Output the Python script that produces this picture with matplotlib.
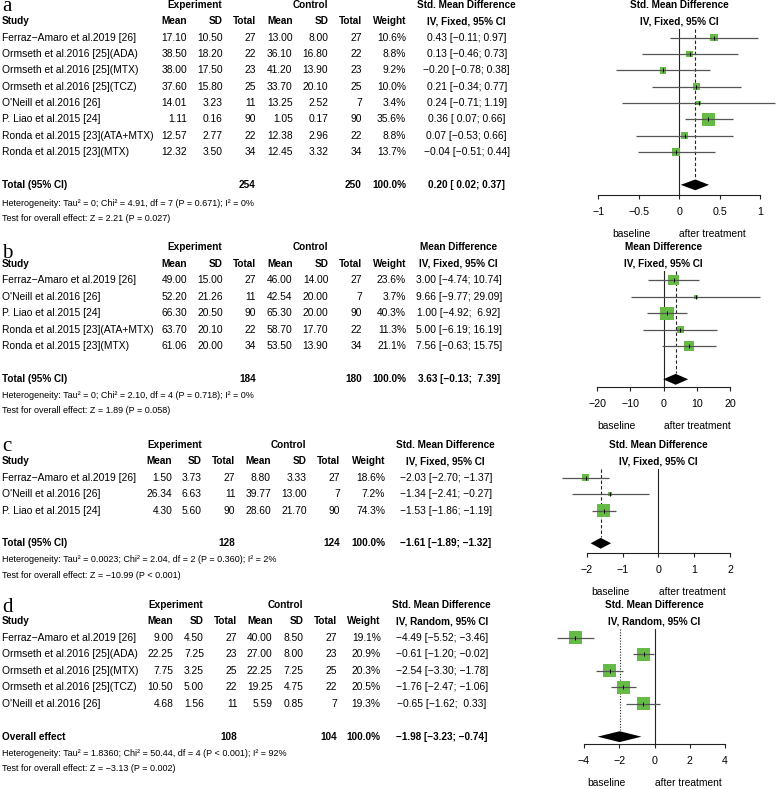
import numpy as np
import matplotlib.pyplot as plt

W, H = 778, 789
plt.rcParams['font.family'] = ['Liberation Sans', 'DejaVu Sans']

# ---- panel a: SMD, fixed ----
studies_a = ["Ferraz\u2212Amaro et al.2019 [26]", "Ormseth et al.2016 [25](ADA)",
             "Ormseth et al.2016 [25](MTX)", "Ormseth et al.2016 [25](TCZ)",
             "O'Neill et al.2016 [26]", "P. Liao et al.2015 [24]",
             "Ronda et al.2015 [23](ATA+MTX)", "Ronda et al.2015 [23](MTX)"]
mean_e_a = [17.10, 38.50, 38.00, 37.60, 14.01, 1.11, 12.57, 12.32]
sd_e_a = [10.50, 18.20, 17.50, 15.80, 3.23, 0.16, 2.77, 3.50]
n_e_a = [27, 22, 23, 25, 11, 90, 22, 34]
mean_c_a = [13.00, 36.10, 41.20, 33.70, 13.25, 1.05, 12.38, 12.45]
sd_c_a = [8.00, 16.80, 13.90, 20.10, 2.52, 0.17, 2.96, 3.32]
n_c_a = [27, 22, 23, 25, 7, 90, 22, 34]
weight_a = [10.6, 8.8, 9.2, 10.0, 3.4, 35.6, 8.8, 13.7]
est_a = [0.43, 0.13, -0.20, 0.21, 0.24, 0.36, 0.07, -0.04]
lo_a = [-0.11, -0.46, -0.78, -0.34, -0.71, 0.07, -0.53, -0.51]
hi_a = [0.97, 0.73, 0.38, 0.77, 1.19, 0.66, 0.66, 0.44]
pooled_a = [0.20, 0.02, 0.37]
totals_a = [254, 250]
ticks_a = [-1, -0.5, 0, 0.5, 1]
ticklabels_a = ["\u22121", "\u22120.5", "0", "0.5", "1"]
het_a = "Heterogeneity: Tau\u00b2 = 0; Chi\u00b2 = 4.91, df = 7 (P = 0.671); I\u00b2 = 0%"
test_a = "Test for overall effect: Z = 2.21 (P = 0.027)"

# ---- panel b: MD, fixed ----
studies_b = ["Ferraz\u2212Amaro et al.2019 [26]", "O'Neill et al.2016 [26]",
             "P. Liao et al.2015 [24]", "Ronda et al.2015 [23](ATA+MTX)",
             "Ronda et al.2015 [23](MTX)"]
mean_e_b = [49.00, 52.20, 66.30, 63.70, 61.06]
sd_e_b = [15.00, 21.26, 20.50, 20.10, 20.00]
n_e_b = [27, 11, 90, 22, 34]
mean_c_b = [46.00, 42.54, 65.30, 58.70, 53.50]
sd_c_b = [14.00, 20.00, 20.00, 17.70, 13.90]
n_c_b = [27, 7, 90, 22, 34]
weight_b = [23.6, 3.7, 40.3, 11.3, 21.1]
est_b = [3.00, 9.66, 1.00, 5.00, 7.56]
lo_b = [-4.74, -9.77, -4.92, -6.19, -0.63]
hi_b = [10.74, 29.09, 6.92, 16.19, 15.75]
pooled_b = [3.63, -0.13, 7.39]
totals_b = [184, 180]
ticks_b = [-20, -10, 0, 10, 20]
ticklabels_b = ["\u221220", "\u221210", "0", "10", "20"]
het_b = "Heterogeneity: Tau\u00b2 = 0; Chi\u00b2 = 2.10, df = 4 (P = 0.718); I\u00b2 = 0%"
test_b = "Test for overall effect: Z = 1.89 (P = 0.058)"

# ---- panel c: SMD, fixed ----
studies_c = ["Ferraz\u2212Amaro et al.2019 [26]", "O'Neill et al.2016 [26]",
             "P. Liao et al.2015 [24]"]
mean_e_c = [1.50, 26.34, 4.30]
sd_e_c = [3.73, 6.63, 5.60]
n_e_c = [27, 11, 90]
mean_c_c = [8.80, 39.77, 28.60]
sd_c_c = [3.33, 13.00, 21.70]
n_c_c = [27, 7, 90]
weight_c = [18.6, 7.2, 74.3]
est_c = [-2.03, -1.34, -1.53]
lo_c = [-2.70, -2.41, -1.86]
hi_c = [-1.37, -0.27, -1.19]
pooled_c = [-1.61, -1.89, -1.32]
totals_c = [128, 124]
ticks_c = [-2, -1, 0, 1, 2]
ticklabels_c = ["\u22122", "\u22121", "0", "1", "2"]
het_c = "Heterogeneity: Tau\u00b2 = 0.0023; Chi\u00b2 = 2.04, df = 2 (P = 0.360); I\u00b2 = 2%"
test_c = "Test for overall effect: Z = \u221210.99 (P < 0.001)"

# ---- panel d: SMD, random ----
studies_d = ["Ferraz\u2212Amaro et al.2019 [26]", "Ormseth et al.2016 [25](ADA)",
             "Ormseth et al.2016 [25](MTX)", "Ormseth et al.2016 [25](TCZ)",
             "O'Neill et al.2016 [26]"]
mean_e_d = [9.00, 22.25, 7.75, 10.50, 4.68]
sd_e_d = [4.50, 7.25, 3.25, 5.00, 1.56]
n_e_d = [27, 23, 25, 22, 11]
mean_c_d = [40.00, 27.00, 22.25, 19.25, 5.59]
sd_c_d = [8.50, 8.00, 7.25, 4.75, 0.85]
n_c_d = [27, 23, 25, 22, 7]
weight_d = [19.1, 20.9, 20.3, 20.5, 19.3]
est_d = [-4.49, -0.61, -2.54, -1.76, -0.65]
lo_d = [-5.52, -1.20, -3.30, -2.47, -1.62]
hi_d = [-3.46, -0.02, -1.78, -1.06, 0.33]
pooled_d = [-1.98, -3.23, -0.74]
totals_d = [108, 104]
ticks_d = [-4, -2, 0, 2, 4]
ticklabels_d = ["\u22124", "\u22122", "0", "2", "4"]
het_d = "Heterogeneity: Tau\u00b2 = 1.8360; Chi\u00b2 = 50.44, df = 4 (P < 0.001); I\u00b2 = 92%"
test_d = "Test for overall effect: Z = \u22123.13 (P = 0.002)"

GREEN = '#66bb47'
FS = 7.4      # body text
FSB = 7.2     # bold headers
FSS = 6.5     # heterogeneity lines

fig = plt.figure(figsize=(W / 100, H / 100), dpi=100)
bg = fig.add_axes([0, 0, 1, 1])
bg.set_xlim(0, W)
bg.set_ylim(H, 0)
bg.axis('off')


def fmt(v):
    return f"{v:.2f}".replace('-', '\u2212')


def padded(vals):
    s = [fmt(v) for v in vals]
    w = max(len(x) for x in s)
    return [' ' * (w - len(x)) + x for x in s]


def draw_panel(p):
    top, step = p['top'], p['step']
    n = len(p['studies'])
    c = p['cols']
    row_px = lambda r: top + (2 + r) * step

    bg.text(2, p['label_y'], p['label'], family='Liberation Serif', fontsize=15,
            va='baseline', ha='left')
    bg.text(c['exp'], top, "Experiment", fontsize=FSB, weight='bold', ha='center', va='center')
    bg.text(c['ctl'], top, "Control", fontsize=FSB, weight='bold', ha='center', va='center')
    bg.text(c['ci'], top, p['head1'], fontsize=FSB, weight='bold', ha='center', va='center')

    y2 = top + step
    bg.text(2, y2, "Study", fontsize=FSB, weight='bold', ha='left', va='center')
    for key, name in [('me', 'Mean'), ('se', 'SD'), ('ne', 'Total'),
                      ('mc', 'Mean'), ('sc', 'SD'), ('nc', 'Total'), ('w', 'Weight')]:
        bg.text(c[key], y2, name, fontsize=FSB, weight='bold', ha='right', va='center')
    bg.text(c['ci'], y2, p['head2'], fontsize=FSB, weight='bold', ha='center', va='center')

    lo_s = padded(list(p['lo']) + [p['pooled'][1]])
    hi_s = padded(list(p['hi']) + [p['pooled'][2]])
    for i in range(n):
        y = row_px(i)
        bg.text(2, y, p['studies'][i], fontsize=FS, ha='left', va='center')
        bg.text(c['me'], y, fmt(p['me'][i]), fontsize=FS, ha='right', va='center')
        bg.text(c['se'], y, fmt(p['se'][i]), fontsize=FS, ha='right', va='center')
        bg.text(c['ne'], y, str(p['ne'][i]), fontsize=FS, ha='right', va='center')
        bg.text(c['mc'], y, fmt(p['mc'][i]), fontsize=FS, ha='right', va='center')
        bg.text(c['sc'], y, fmt(p['sc'][i]), fontsize=FS, ha='right', va='center')
        bg.text(c['nc'], y, str(p['nc'][i]), fontsize=FS, ha='right', va='center')
        bg.text(c['w'], y, f"{p['w'][i]:.1f}%", fontsize=FS, ha='right', va='center')
        bg.text(c['ci'], y, f"{fmt(p['est'][i])} [{lo_s[i]}; {hi_s[i]}]",
                fontsize=FS, ha='center', va='center')

    yt = row_px(n + 1)
    bg.text(2, yt, p['total_label'], fontsize=FSB, weight='bold', ha='left', va='center')
    bg.text(c['ne'], yt, str(p['totals'][0]), fontsize=FSB, weight='bold', ha='right', va='center')
    bg.text(c['nc'], yt, str(p['totals'][1]), fontsize=FSB, weight='bold', ha='right', va='center')
    bg.text(c['w'], yt, "100.0%", fontsize=FSB, weight='bold', ha='right', va='center')
    bg.text(c['ci'], yt, f"{fmt(p['pooled'][0])} [{lo_s[-1]}; {hi_s[-1]}]",
            fontsize=FSB, weight='bold', ha='center', va='center')
    bg.text(2, yt + p['het_gap'], p['het'], fontsize=FSS, ha='left', va='center')
    bg.text(2, yt + p['het_gap'] + 15.5, p['test'], fontsize=FSS, ha='left', va='center')

    # forest plot
    ticks = p['ticks']
    x0, x1 = p['tick_px']
    gap = p['gap']
    ytop_px = row_px(-1)
    ybot_px = row_px(n + gap)
    ax = fig.add_axes([x0 / W, 1 - ybot_px / H, (x1 - x0) / W, (ybot_px - ytop_px) / H])
    ax.set_xlim(ticks[0], ticks[-1])
    ax.set_ylim(n + gap, -1)
    ax.patch.set_alpha(0)
    for s in ['top', 'right', 'left']:
        ax.spines[s].set_visible(False)
    ax.spines['bottom'].set_linewidth(0.8)
    ax.spines['bottom'].set_color('#222222')
    ax.set_yticks([])
    ax.set_xticks(ticks)
    ax.set_xticklabels(p['ticklabels'])
    ax.tick_params(axis='x', length=3.2, width=0.8, pad=5.5, labelsize=7.7, color='#222222')

    rows = np.arange(n)
    ax.plot([0, 0], [-0.55, n + gap], color='#222222', lw=0.8, clip_on=False, zorder=1)
    ax.plot([p['pooled'][0]] * 2, [-0.55, n + 0.6], color='#222222', lw=0.8,
            ls=p['pooled_ls'], clip_on=False, zorder=1)
    w = np.array(p['w'])
    side = 9.7 * np.sqrt(w / w.max())
    ax.scatter(p['est'], rows, s=side ** 2, marker='s', color=GREEN, linewidths=0,
               zorder=2, clip_on=False)
    ax.hlines(rows, p['lo'], p['hi'], color='#555555', lw=0.9, zorder=3, clip_on=False)
    ax.scatter(p['est'], rows, s=3.5 ** 2, marker='|', color='black', linewidths=0.7,
               zorder=4, clip_on=False)
    pe, pl, ph = p['pooled']
    ax.fill([pl, pe, ph, pe], [n + 1, n + 1 - 0.33, n + 1, n + 1 + 0.33],
            color='black', lw=0, zorder=3, clip_on=False)

    zero_px = x0 + (0 - ticks[0]) / (ticks[-1] - ticks[0]) * (x1 - x0)
    bg.text(zero_px - 47.7, ybot_px + 39, "baseline", fontsize=FS, ha='center', va='center')
    bg.text(zero_px + 33.7, ybot_px + 39, "after treatment", fontsize=FS, ha='center', va='center')
    bg.text(zero_px, top, p['head1'], fontsize=FSB, weight='bold', ha='center', va='center')
    bg.text(zero_px, y2, p['head2'], fontsize=FSB, weight='bold', ha='center', va='center')


cols_ab = dict(exp=195, ctl=310, me=187, se=223, ne=256, mc=292.7, sc=328.3, nc=361.7, w=406)

panels = [
    dict(label='a', label_y=10.5, top=5, step=16.35, studies=studies_a, me=mean_e_a, se=sd_e_a,
         ne=n_e_a, mc=mean_c_a, sc=sd_c_a, nc=n_c_a, w=weight_a, est=est_a, lo=lo_a, hi=hi_a,
         pooled=pooled_a, totals=totals_a, total_label="Total (95% CI)",
         head1="Std. Mean Difference", head2="IV, Fixed, 95% CI", het=het_a, test=test_a,
         het_gap=18.5, cols=dict(cols_ab, ci=466.7), ticks=ticks_a, ticklabels=ticklabels_a,
         tick_px=(598.3, 760), gap=1.62, pooled_ls=(0, (3, 2))),
    dict(label='b', label_y=257.5, top=247.3, step=16.5, studies=studies_b, me=mean_e_b,
         se=sd_e_b, ne=n_e_b, mc=mean_c_b, sc=sd_c_b, nc=n_c_b, w=weight_b, est=est_b,
         lo=lo_b, hi=hi_b, pooled=pooled_b, totals=totals_b, total_label="Total (95% CI)",
         head1="Mean Difference", head2="IV, Fixed, 95% CI", het=het_b, test=test_b,
         het_gap=16, cols=dict(cols_ab, ci=458.8), ticks=ticks_b, ticklabels=ticklabels_b,
         tick_px=(597.3, 730), gap=1.45, pooled_ls=(0, (3, 2))),
    dict(label='c', label_y=450.5, top=445, step=16.38, studies=studies_c, me=mean_e_c,
         se=sd_e_c, ne=n_e_c, mc=mean_c_c, sc=sd_c_c, nc=n_c_c, w=weight_c, est=est_c,
         lo=lo_c, hi=hi_c, pooled=pooled_c, totals=totals_c, total_label="Total (95% CI)",
         head1="Std. Mean Difference", head2="IV, Fixed, 95% CI", het=het_c, test=test_c,
         het_gap=16.7, cols=dict(exp=174.2, ctl=288.3, me=172.3, se=201.7, ne=235.3, mc=271,
                                 sc=306.7, nc=340, w=385, ci=445.8),
         ticks=ticks_c, ticklabels=ticklabels_c, tick_px=(586.7, 730), gap=1.58,
         pooled_ls=(0, (3, 2))),
    dict(label='d', label_y=612.5, top=605, step=16.46, studies=studies_d, me=mean_e_d,
         se=sd_e_d, ne=n_e_d, mc=mean_c_d, sc=sd_c_d, nc=n_c_d, w=weight_d, est=est_d,
         lo=lo_d, hi=hi_d, pooled=pooled_d, totals=totals_d, total_label="Overall effect",
         head1="Std. Mean Difference", head2="IV, Random, 95% CI", het=het_d, test=test_d,
         het_gap=16.6, cols=dict(exp=176, ctl=285, me=173.3, se=204, ne=237.3, mc=272.7,
                                 sc=303.3, nc=336.7, w=380.7, ci=441.7),
         ticks=ticks_d, ticklabels=ticklabels_d, tick_px=(584, 725), gap=1.44,
         pooled_ls=(0, (1, 1.5))),
]

for p in panels:
    draw_panel(p)

fig.savefig('out.png', dpi=100)
